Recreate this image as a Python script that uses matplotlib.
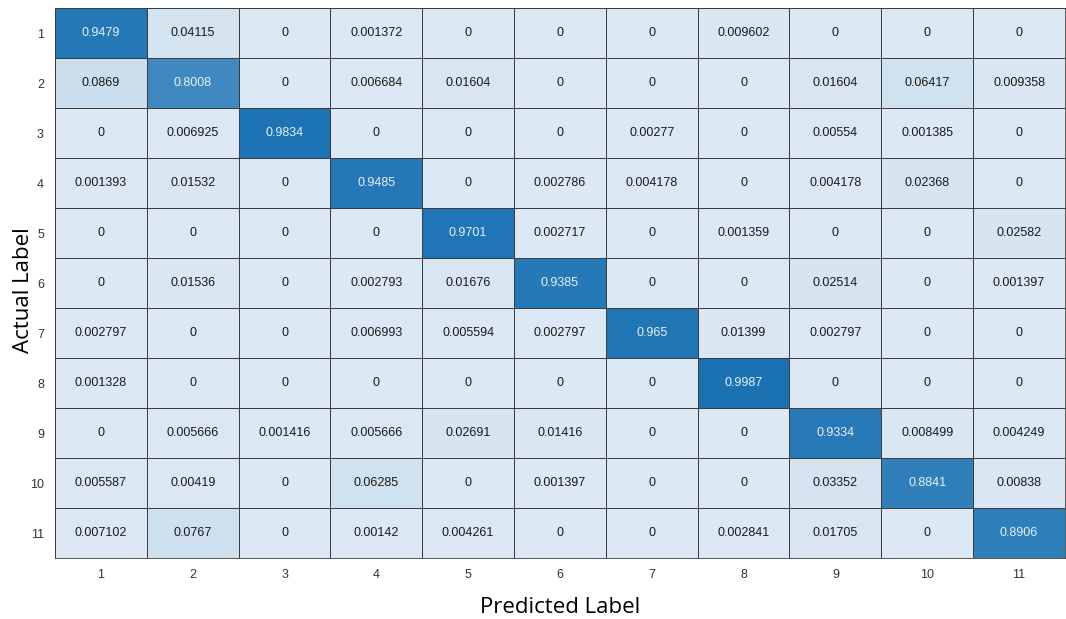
import numpy as np
import matplotlib
matplotlib.use("Agg")
import matplotlib.pyplot as plt
from matplotlib.colors import LinearSegmentedColormap

labels = ["1", "2", "3", "4", "5", "6", "7", "8", "9", "10", "11"]

row_1 = [0.9479, 0.04115, 0, 0.001372, 0, 0, 0, 0.009602, 0, 0, 0]
row_2 = [0.0869, 0.8008, 0, 0.006684, 0.01604, 0, 0, 0, 0.01604, 0.06417, 0.009358]
row_3 = [0, 0.006925, 0.9834, 0, 0, 0, 0.00277, 0, 0.00554, 0.001385, 0]
row_4 = [0.001393, 0.01532, 0, 0.9485, 0, 0.002786, 0.004178, 0, 0.004178, 0.02368, 0]
row_5 = [0, 0, 0, 0, 0.9701, 0.002717, 0, 0.001359, 0, 0, 0.02582]
row_6 = [0, 0.01536, 0, 0.002793, 0.01676, 0.9385, 0, 0, 0.02514, 0, 0.001397]
row_7 = [0.002797, 0, 0, 0.006993, 0.005594, 0.002797, 0.965, 0.01399, 0.002797, 0, 0]
row_8 = [0.001328, 0, 0, 0, 0, 0, 0, 0.9987, 0, 0, 0]
row_9 = [0, 0.005666, 0.001416, 0.005666, 0.02691, 0.01416, 0, 0, 0.9334, 0.008499, 0.004249]
row_10 = [0.005587, 0.00419, 0, 0.06285, 0, 0.001397, 0, 0, 0.03352, 0.8841, 0.00838]
row_11 = [0.007102, 0.0767, 0, 0.00142, 0.004261, 0, 0, 0.002841, 0.01705, 0, 0.8906]

matrix = np.array([row_1, row_2, row_3, row_4, row_5, row_6, row_7, row_8,
                   row_9, row_10, row_11])

cmap = LinearSegmentedColormap.from_list("mat_blue", ["#dce8f3", "#1a72b3"])

fig = plt.figure(figsize=(10.66, 6.19), dpi=100)
ax = fig.add_axes([0.0516, 0.0985, 0.9474, 0.8885])

n = len(labels)
ax.pcolormesh(np.arange(n + 1), np.arange(n + 1), matrix, cmap=cmap,
              vmin=0, vmax=1, edgecolor="#3c3c3c", linewidth=0.5)
ax.set_xlim(0, n)
ax.set_ylim(n, 0)

# cell values
for i in range(n):
    for j in range(n):
        v = matrix[i, j]
        txt = "0" if v == 0 else f"{v:.4g}"
        color = "#e8f0f8" if v > 0.5 else "#1a1a1a"
        ax.text(j + 0.5, i + 0.5, txt, ha="center", va="center", fontsize=9,
                color=color, family="Liberation Sans")

ax.set_xticks(np.arange(n) + 0.5)
ax.set_yticks(np.arange(n) + 0.5)
ax.set_xticklabels(labels, family="Liberation Sans", fontsize=9, color="#333333")
ax.set_yticklabels(labels, family="Liberation Sans", fontsize=9, color="#333333")
ax.tick_params(length=0, pad=8)
for s in ax.spines.values():
    s.set_color("#3c3c3c")
    s.set_linewidth(0.6)

ax.set_xlabel("Predicted Label", family="Open Sans", fontsize=16)
ax.set_ylabel("Actual Label", family="Open Sans", fontsize=16)
ax.xaxis.set_label_coords(0.5, -0.07)
ax.yaxis.set_label_coords(-0.021, 0.487)

plt.savefig("out.png", dpi=100)
